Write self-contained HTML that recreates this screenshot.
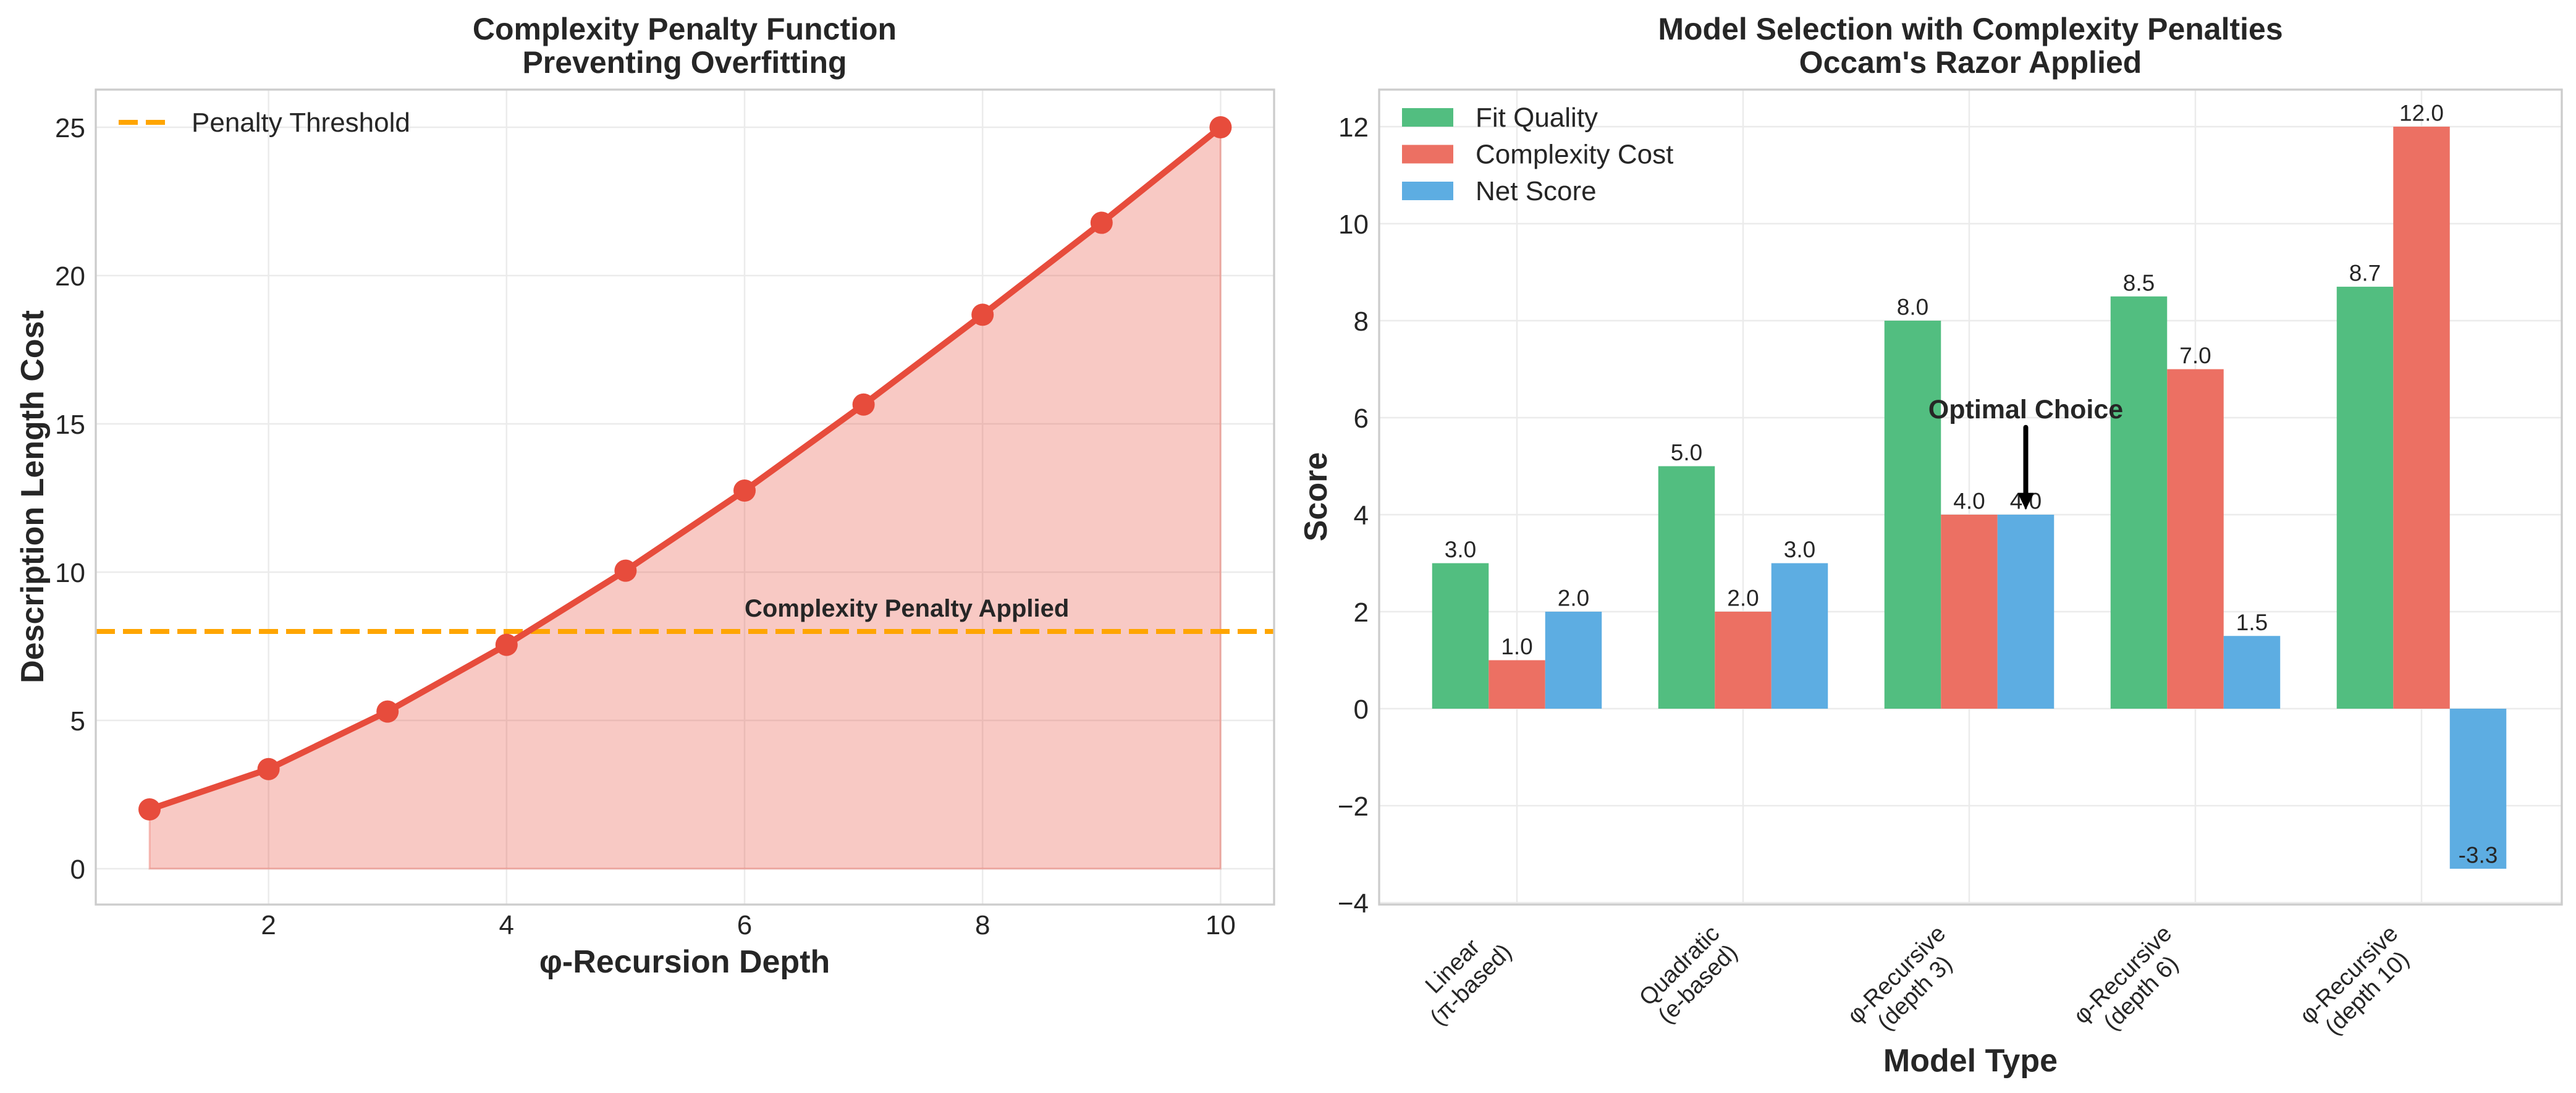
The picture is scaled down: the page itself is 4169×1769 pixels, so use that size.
<!DOCTYPE html>
<html><head><meta charset="utf-8">
<style>
html,body{margin:0;padding:0;background:#fff;}
svg{display:block;font-family:"Liberation Sans",Arial,sans-serif;}
</style></head>
<body>
<svg id="fig" width="4169" height="1769" viewBox="0 0 4169 1769" xmlns="http://www.w3.org/2000/svg">
<rect width="4169" height="1769" fill="#fff"/>
<g id="left"></g>
<g id="right"></g>
</svg>
<script>
// ---- Left chart data ----
const depths = [1,2,3,4,5,6,7,8,9,10];
const costs = [2.0,3.36,5.3,7.55,10.05,12.75,15.65,18.68,21.78,25.0];
const threshold = 8;
const leftXTicks = [2,4,6,8,10];
const leftYTicks = [0,5,10,15,20,25];

// ---- Right chart data ----
const models = [["Linear","(π-based)"],["Quadratic","(e-based)"],["φ-Recursive","(depth 3)"],["φ-Recursive","(depth 6)"],["φ-Recursive","(depth 10)"]];
const fitQuality = [3.0,5.0,8.0,8.5,8.7];
const complexityCost = [1.0,2.0,4.0,7.0,12.0];
const netScore = [2.0,3.0,4.0,1.5,-3.3];
const rightYTicks = [-4,-2,0,2,4,6,8,10,12];
const seriesNames = ["Fit Quality","Complexity Cost","Net Score"];

const NS="http://www.w3.org/2000/svg";
function mk(parent,tag,attrs,text){const e=document.createElementNS(NS,tag);for(const k in attrs)e.setAttribute(k,attrs[k]);if(text!==undefined)e.textContent=text;parent.appendChild(e);return e;}

// ================= LEFT =================
const L=document.getElementById('left');
const lx0=155,lx1=2062,ly0=145,ly1=1464;
const lxs=v=>242+(v-1)*192.6;
const lys=v=>1406-v*48;
leftXTicks.forEach(t=>{const g=mk(L,'line',{x1:lxs(t),x2:lxs(t),y1:ly0,y2:ly1,stroke:'#ebebeb','stroke-width':2.5});

});
leftYTicks.forEach(t=>{const g=mk(L,'line',{x1:lx0,x2:lx1,y1:lys(t),y2:lys(t),stroke:'#ebebeb','stroke-width':2.5});

});
let fp='M'+lxs(depths[0])+','+lys(0);
depths.forEach((d,i)=>{fp+=' L'+lxs(d)+','+lys(costs[i]);});
fp+=' L'+lxs(depths[depths.length-1])+','+lys(0)+' Z';
const area=mk(L,'path',{d:fp,fill:'#e74c3c','fill-opacity':0.3,stroke:'#e74c3c','stroke-opacity':0.3,'stroke-width':3});


const th=mk(L,'line',{x1:lx0,x2:lx1,y1:lys(threshold),y2:lys(threshold),stroke:'#ffa500','stroke-width':8,'stroke-dasharray':'31 13'});


const pts=depths.map((d,i)=>lxs(d)+','+lys(costs[i])).join(' ');
const ln=mk(L,'polyline',{points:pts,fill:'none',stroke:'#e74c3c','stroke-width':10,'stroke-linejoin':'round'});


depths.forEach((d,i)=>{const c=mk(L,'circle',{cx:lxs(d),cy:lys(costs[i]),r:18,fill:'#e74c3c'});

});
const ann=mk(L,'text',{x:lxs(6),y:lys(8.5),'font-size':40,'font-weight':'bold',fill:'#262626'},'Complexity Penalty Applied');


const ls=mk(L,'rect',{x:lx0,y:ly0,width:lx1-lx0,height:ly1-ly0,fill:'none',stroke:'#cccccc','stroke-width':3.3});


leftXTicks.forEach(t=>{const e=mk(L,'text',{x:lxs(t),y:1512,'font-size':44,'text-anchor':'middle',fill:'#262626'},String(t));

});
leftYTicks.forEach(t=>{const e=mk(L,'text',{x:138,y:lys(t)+16,'font-size':44,'text-anchor':'end',fill:'#262626'},String(t));

});
const lg=mk(L,'g',{});


mk(lg,'line',{x1:192,x2:267,y1:198,y2:198,stroke:'#ffa500','stroke-width':8,'stroke-dasharray':'31 13'});
const lgt=mk(lg,'text',{x:310,y:213,'font-size':44,fill:'#262626'},'Penalty Threshold');


const lt=mk(L,'text',{x:1108,'font-size':50,'font-weight':'bold','text-anchor':'middle',fill:'#262626'});


mk(lt,'tspan',{x:1108,y:64},'Complexity Penalty Function');
mk(lt,'tspan',{x:1108,y:118},'Preventing Overfitting');
const lxl=mk(L,'text',{x:1108,y:1574,'font-size':52,'font-weight':'bold','text-anchor':'middle',fill:'#262626'},'φ-Recursion Depth');


const lyl=mk(L,'text',{x:0,y:0,'font-size':52,'font-weight':'bold','text-anchor':'middle',fill:'#262626',transform:'translate(70,804) rotate(-90)'},'Description Length Cost');



// ================= RIGHT =================
const R=document.getElementById('right');
const rx0=2232,rx1=4146,ry0=145,ry1=1464;
const rxs=v=>2455+v*366;
const rys=v=>1147-v*78.5;
const bw=0.25;
models.forEach((m,i)=>{const g=mk(R,'line',{x1:rxs(i),x2:rxs(i),y1:ry0,y2:ry1,stroke:'#ebebeb','stroke-width':2.5});

});
rightYTicks.forEach(t=>{const g=mk(R,'line',{x1:rx0,x2:rx1,y1:rys(t),y2:rys(t),stroke:'#ebebeb','stroke-width':2.5});

});
const series=[fitQuality,complexityCost,netScore];
const colors=['#52be80','#ec7063','#5dade2'];
const barNames=['fit-quality-bar','complexity-cost-bar','net-score-bar'];
series.forEach((vals,s)=>{
  vals.forEach((v,i)=>{
    const cx=i+(s-1)*bw;
    const xL=rxs(cx-bw/2),xR=rxs(cx+bw/2);
    const yA=rys(Math.max(v,0)),yB=rys(Math.min(v,0));
    const b=mk(R,'rect',{x:xL,y:yA,width:xR-xL,height:yB-yA,fill:colors[s]});
    
    
    const t=mk(R,'text',{x:rxs(cx),y:rys(v+0.12),'font-size':37,'text-anchor':'middle',fill:'#262626'},v.toFixed(1));
    
    
  });
});
const best=2;
const ax=rxs(best+bw);
const arr=mk(R,'g',{});


mk(arr,'line',{x1:ax,x2:ax,y1:rys(5.8),y2:rys(netScore[best]+0.35),stroke:'#000','stroke-width':8,'stroke-linecap':'round'});
mk(arr,'path',{d:`M${ax-13},${rys(netScore[best]+0.45)} L${ax+13},${rys(netScore[best]+0.45)} L${ax},${rys(netScore[best]+0.1)} Z`,fill:'#000'});
const oc=mk(R,'text',{x:ax,y:rys(6)+1,'font-size':43,'font-weight':'bold','text-anchor':'middle',fill:'#262626'},'Optimal Choice');


const rs=mk(R,'rect',{x:rx0,y:ry0,width:rx1-rx0,height:ry1-ry0,fill:'none',stroke:'#cccccc','stroke-width':3.3});


rightYTicks.forEach(t=>{const e=mk(R,'text',{x:2215,y:rys(t)+16,'font-size':44,'text-anchor':'end',fill:'#262626'},(t<0?'\u2212':'')+Math.abs(t));

});
models.forEach((m,i)=>{
  const g=mk(R,'g',{});
  
  
  const inner=mk(g,'g',{transform:'rotate(-45)'});
  mk(inner,'text',{x:0,y:0,'font-size':38,'text-anchor':'middle',fill:'#262626'},m[0]);
  mk(inner,'text',{x:0,y:42,'font-size':38,'text-anchor':'middle',fill:'#262626'},m[1]);
  g.setAttribute('transform','translate(0,0)');
  const bb=g.getBoundingClientRect();
  const sv=document.getElementById('fig').getBoundingClientRect();
  const dx=rxs(i)-(bb.right-sv.left), dy=1490-(bb.top-sv.top);
  g.setAttribute('transform',`translate(${dx},${dy})`);
});
const rl=mk(R,'g',{});


seriesNames.forEach((n,s)=>{
  const y=190+s*59.5;
  mk(rl,'rect',{x:2269,y:y-15,width:83,height:30,fill:colors[s]});
  const t=mk(rl,'text',{x:2388,y:y+15,'font-size':44,fill:'#262626'},n);
  
  
});
const rt=mk(R,'text',{x:3189,'font-size':50,'font-weight':'bold','text-anchor':'middle',fill:'#262626'});


mk(rt,'tspan',{x:3189,y:64},'Model Selection with Complexity Penalties');
mk(rt,'tspan',{x:3189,y:118},"Occam's Razor Applied");
const rxl=mk(R,'text',{x:3189,y:1734,'font-size':52,'font-weight':'bold','text-anchor':'middle',fill:'#262626'},'Model Type');


const ryl=mk(R,'text',{x:0,y:0,'font-size':52,'font-weight':'bold','text-anchor':'middle',fill:'#262626',transform:'translate(2147,804) rotate(-90)'},'Score');


</script>
</body></html>
